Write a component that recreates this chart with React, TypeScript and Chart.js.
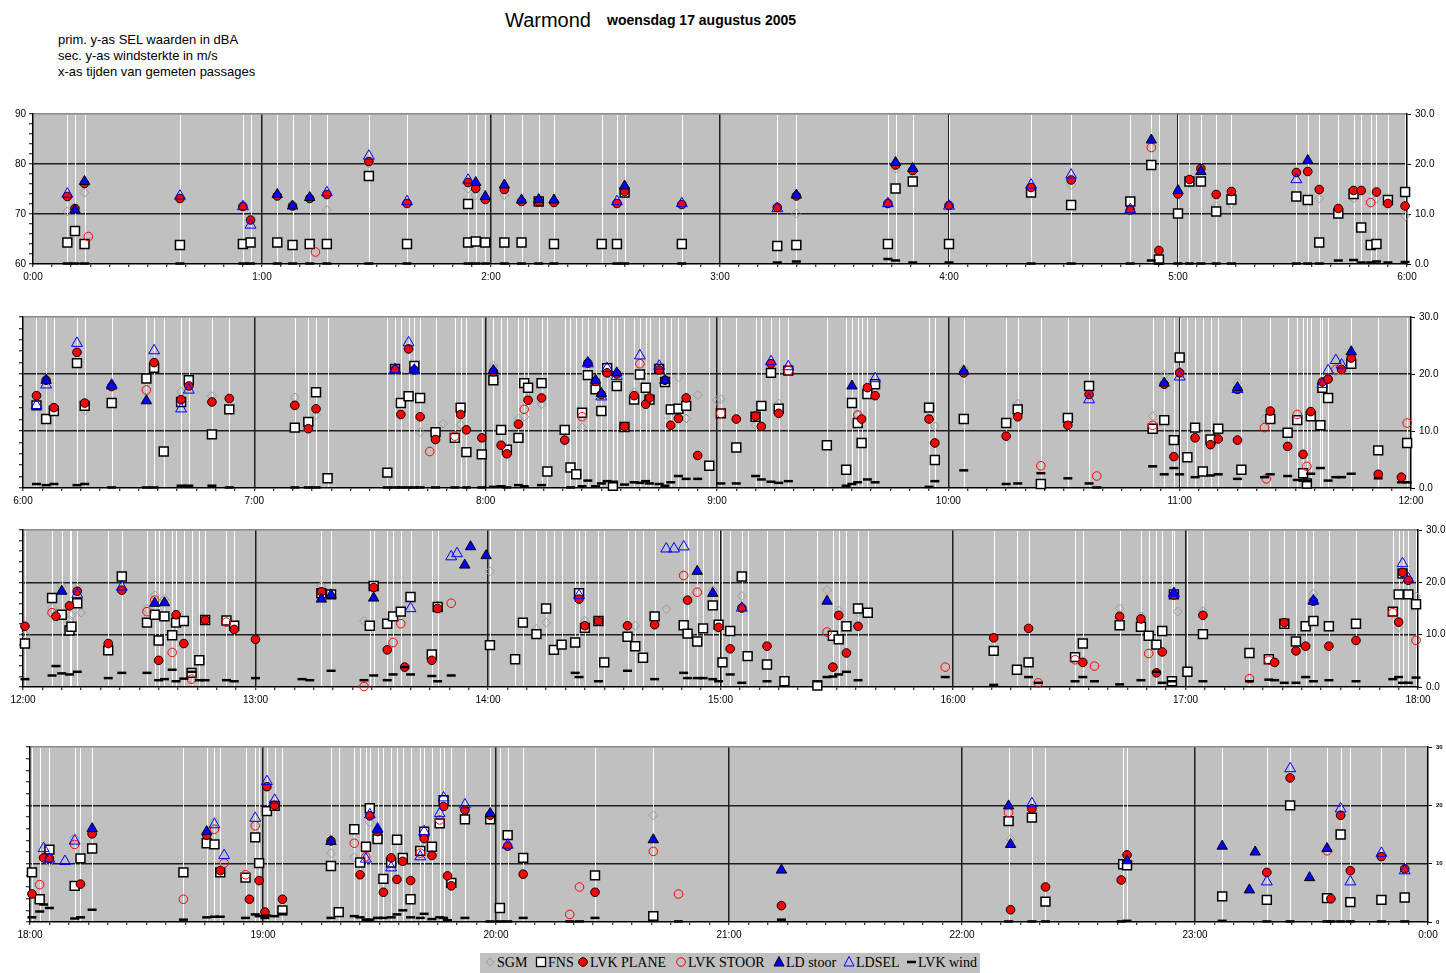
import React, { useEffect, useRef } from "react";
import { Chart, registerables } from "chart.js";

Chart.register(...registerables);

type Pt = [string, number];

// ---------- DATA (time "H:MM[.5]", value dBA; wind in m/s) ----------
const SGM: Pt[] = [
  ["0:09",70.5],["0:13.5",74.3],["1:17",70.8],["1:28",80.1],["1:54",75.1],["1:56",73.8],["2:03.5",73.8],["3:20",70.1],["3:46",79.1],["4:32",75.8],["5:03",76.1],["5:10",71.6],["5:14",72.0],["5:37",73.1],["5:46",73.1],["5:52",73.1],["5:59.5",69.6],
  ["6:03.5",75.3],["6:16",73.6],["6:41",76.9],["6:49",76.1],["7:10.5",75.9],["7:16",72.8],["7:43",69.8],["7:49",71.3],["7:52",69.2],["7:53.5",71.1],["8:02",81.4],["8:08.5",72.2],["8:10",72.5],["8:11",75.8],["8:14.5",74.7],["8:25",70.6],["8:38.5",76.8],["8:45",81.3],["8:50",79.4],["8:52",72.2],["8:55",76.3],["9:00",75.4],["9:01",75.6],["9:10",71.0],["9:11.5",70.8],["9:16",74.8],["9:36.5",72.8],["9:56.5",70.8],["10:04",80.9],["10:18",74.8],["10:53",72.6],["10:56",79.8],["11:00",80.5],["11:15",78.5],["11:22",72.1],["11:40.5",80.4],["11:42",80.5],
  ["12:00.5",70.0],["12:07.5",75.1],["12:10",79.3],["12:12",72.8],["12:12.5",73.7],["12:14",79.0],["12:15",74.2],["12:32",74.9],["12:34",77.5],["12:36.5",76.8],["13:17",79.3],["13:28",72.6],["13:47",75.6],["14:00.5",82.1],["14:12.5",71.1],["14:15",72.3],["14:25",72.6],["14:38",71.7],["14:46",74.9],["14:58",78.5],["15:05.5",77.4],["15:27.5",78.5],["15:30.5",74.6],["15:35.5",74.3],["16:43",75.0],["16:48.5",73.5],["16:58",74.4],["17:04.5",74.5],["17:33",77.8],["17:55",71.4],["17:59.5",77.3],
  ["18:05",70.3],["18:11.5",74.4],["18:47.5",77.2],["19:17.5",71.8],["19:23.5",71.1],["19:27.5",77.1],["20:40.5",78.3],["22:12.5",74.2],["23:37.5",78.3],
];

const FNS: Pt[] = [
  ["0:09",64.3],["0:11",66.6],["0:13.5",64.0],["0:38.5",63.8],["0:55",64.0],["0:57",64.3],["1:04",64.3],["1:08",63.8],["1:12.5",64.0],["1:17",64.0],["1:28",77.6],["1:38",64.0],["1:54",72.0],["1:54",64.3],["1:56",64.5],["1:58.5",64.3],["2:03.5",64.3],["2:08",64.3],["2:12.5",72.5],["2:16.5",64.0],["2:29",64.0],["2:33",64.0],["2:35",74.3],["2:50",64.0],["3:15",63.6],["3:20",63.8],["3:44",64.0],["3:46",75.1],["3:50.5",76.5],["4:00",64.0],["4:21.5",74.3],["4:32",71.8],["4:47.5",72.5],["4:53",79.8],["4:55",60.9],["5:00",70.1],["5:03",76.5],["5:06",76.5],["5:10",70.5],["5:14",72.9],["5:31",73.5],["5:34",72.8],["5:37",64.3],["5:42",70.1],["5:46",74.0],["5:48",67.3],["5:50.5",63.8],["5:52",64.0],["5:55",72.8],["5:59.5",74.4],
  ["6:03.5",74.5],["6:06",72.1],["6:08",73.5],["6:14",81.9],["6:16",74.4],["6:23",74.9],["6:32",79.2],["6:34",81.1],["6:36.5",66.4],["6:41",75.1],["6:43",78.9],["6:49",69.4],["6:53.5",73.8],["7:10.5",70.6],["7:14",71.6],["7:16",76.8],["7:19",61.7],["7:34.5",62.7],["7:36.5",80.9],["7:38",74.9],["7:40",76.1],["7:41.5",81.4],["7:43",75.8],["7:47",69.8],["7:52",68.8],["7:53.5",74.1],["7:55",66.3],["7:59",65.9],["8:02",78.9],["8:04",70.2],["8:05.5",66.7],["8:08.5",68.8],["8:10",78.4],["8:11",77.6],["8:14.5",78.4],["8:16",62.9],["8:20.5",70.2],["8:22",63.6],["8:23.5",62.4],["8:25",73.2],["8:26.5",79.8],["8:28.5",77.3],["8:30",73.5],["8:31.5",81.0],["8:33",60.4],["8:34",77.9],["8:36",70.7],["8:38.5",75.5],["8:40",79.9],["8:41.5",77.6],["8:42.5",75.5],["8:45",80.9],["8:46.5",78.6],["8:48",73.8],["8:50",73.9],["8:52",74.4],["8:58",63.9],["9:01",73.1],["9:05",67.1],["9:10",72.5],["9:11.5",74.4],["9:14",80.2],["9:16",73.9],["9:18.5",80.6],["9:28.5",67.5],["9:33.5",63.2],["9:35",74.9],["9:36.5",71.4],["9:37.5",67.9],["9:39",76.5],["9:41",78.2],["9:55",74.1],["9:56.5",64.9],["10:04",72.1],["10:15",71.4],["10:18",73.8],["10:24",60.7],["10:31",72.3],["10:36.5",77.9],["10:53",70.4],["10:56",71.9],["10:58.5",68.4],["11:00",82.9],["11:02",65.4],["11:04",70.6],["11:06",62.9],["11:08",68.5],["11:10",70.4],["11:16",63.2],["11:23.5",72.1],["11:28",69.7],["11:30.5",71.9],["11:32",62.6],["11:33",60.8],["11:34",72.6],["11:36.5",71.0],["11:37",77.6],["11:38.5",75.8],["11:44.5",81.8],["11:51.5",66.6],["11:59",67.9],
  ["12:00.5",68.3],["12:07.5",77.0],["12:10",73.8],["12:12",70.8],["12:12.5",71.5],["12:14",76.0],["12:22",67.0],["12:25.5",81.1],["12:32",72.3],["12:34",73.8],["12:35",68.9],["12:36.5",73.5],["12:38.5",69.9],["12:39.5",72.3],["12:41.5",72.6],["12:43.5",62.7],["12:45.5",65.1],["12:47",72.8],["12:52.5",72.7],["12:54.5",71.7],["13:17",77.9],["13:19.5",77.7],["13:29.5",71.7],["13:30.5",79.3],["13:34",72.1],["13:35.5",73.5],["13:37.5",74.4],["13:40",77.2],["13:45.5",66.2],["13:47",75.3],["14:00.5",68.0],["14:07",65.3],["14:09",72.3],["14:12.5",70.1],["14:15",75.0],["14:17",67.1],["14:19",68.1],["14:22.5",68.5],["14:23.5",77.9],["14:25",71.3],["14:28.5",72.6],["14:30",64.7],["14:36",69.6],["14:38",67.8],["14:40",65.6],["14:43",73.5],["14:50.5",71.8],["14:51.5",70.2],["14:54",68.7],["14:55.5",71.2],["14:58",75.6],["14:59.5",71.9],["15:00.5",64.7],["15:02.5",70.7],["15:05.5",81.1],["15:07",65.9],["15:12",64.3],["15:16.5",61.1],["15:25",60.3],["15:29",69.8],["15:30.5",69.1],["15:32.5",71.6],["15:35.5",75.0],["15:38",74.2],["16:10.5",66.9],["16:16.5",63.3],["16:19.5",64.7],["16:31.5",65.7],["16:33.5",68.3],["16:43",71.8],["16:48.5",71.5],["16:50.5",69.8],["16:52.5",68.1],["16:54",70.7],["16:56.5",61.1],["16:57",77.7],["17:00.5",62.9],["17:04.5",70.1],["17:16.5",66.5],["17:21.5",65.3],["17:25.5",72.1],["17:28.5",68.7],["17:31",71.6],["17:33",72.6],["17:37",71.6],["17:44",72.1],["17:53.5",74.4],["17:55",77.7],["17:56",81.7],["17:57.5",77.7],["17:59.5",75.8],
  ["18:00.5",68.5],["18:02.5",63.9],["18:05",72.4],["18:11.5",66.2],["18:13",70.9],["18:16",72.6],["18:39.5",68.5],["18:45.5",73.5],["18:47.5",73.3],["18:49",68.5],["18:55.5",67.6],["18:58",74.5],["18:59",70.1],["19:01",79.0],["19:03",79.9],["19:05",62.0],["19:17.5",69.6],["19:19.5",61.7],["19:23.5",75.9],["19:25",70.2],["19:26.5",72.9],["19:27.5",79.5],["19:29.5",74.2],["19:31",67.4],["19:33",70.2],["19:34.5",74.1],["19:36",71.0],["19:38",63.9],["19:40.5",72.2],["19:41.5",75.5],["19:43.5",72.9],["19:45.5",76.9],["19:46.5",80.9],["19:48.5",66.7],["19:52",77.6],["19:58.5",77.6],["20:01",62.4],["20:03",74.9],["20:07",71.0],["20:25.5",68.0],["20:40.5",61.0],["22:12",77.3],["22:18",77.9],["22:21.5",63.5],["22:41.5",69.9],["22:42.5",69.7],["23:07",64.4],["23:18.5",63.8],["23:24.5",80.0],["23:34",64.1],["23:37.5",75.0],["23:40",63.4],["23:48",63.8],["23:54",64.2],
];

const LVK_PLANE: Pt[] = [
  ["0:09",73.5],["0:11",71.1],["0:13.5",76.1],["0:38.5",73.1],["0:55",71.5],["0:57",68.8],["1:04",73.6],["1:08",71.6],["1:12.5",73.1],["1:17",73.9],["1:28",80.5],["1:38",72.1],["1:54",76.3],["1:56",75.1],["1:58.5",72.9],["2:03.5",74.9],["2:08",72.5],["2:12.5",72.5],["2:16.5",72.3],["2:33",72.1],["2:35",74.5],["2:50",71.9],["3:15",71.3],["3:20",73.6],["3:44",72.1],["3:46",79.8],["3:50.5",78.7],["4:00",71.7],["4:21.5",75.3],["4:32",76.8],["4:47.5",70.8],["4:55",62.7],["5:00",74.0],["5:03",76.9],["5:06",79.1],["5:10",73.9],["5:14",74.5],["5:31",78.3],["5:34",78.5],["5:37",74.9],["5:42",71.1],["5:46",74.7],["5:48",74.7],["5:52",74.4],["5:55",72.1],["5:59.5",71.6],
  ["6:03.5",76.2],["6:06",78.9],["6:08",74.1],["6:14",83.8],["6:16",74.9],["6:23",77.8],["6:34",82.0],["6:41",75.5],["6:43",77.9],["6:49",75.1],["6:53.5",75.7],["7:10.5",74.5],["7:14",70.4],["7:16",73.9],["7:36.5",80.8],["7:38",72.9],["7:40",84.4],["7:41.5",80.7],["7:43",72.5],["7:47",68.5],["7:53.5",72.9],["7:55",70.2],["7:59",68.8],["8:02",80.4],["8:04",67.5],["8:05.5",66.0],["8:08.5",71.2],["8:11",75.4],["8:14.5",75.8],["8:20.5",68.4],["8:26.5",81.9],["8:28.5",78.7],["8:30",76.4],["8:31.5",80.2],["8:34",80.0],["8:36",70.8],["8:38.5",76.2],["8:41.5",74.7],["8:42.5",75.8],["8:45",80.7],["8:46.5",78.9],["8:48",71.0],["8:50",72.2],["8:52",75.8],["8:55",65.7],["9:05",72.1],["9:10",72.6],["9:11.5",70.8],["9:14",81.8],["9:16",73.1],["9:37.5",72.1],["9:39",77.6],["9:41",76.2],["9:55",72.1],["9:56.5",67.9],["10:04",80.2],["10:15",69.1],["10:18",72.5],["10:31",71.0],["10:36.5",76.4],["10:56",78.2],["10:58.5",65.5],["11:00",80.2],["11:04",68.8],["11:08",67.6],["11:10",68.6],["11:15",77.3],["11:15",68.4],["11:23.5",73.5],["11:28",67.3],["11:32",65.9],["11:34",73.4],["11:37",78.6],["11:38.5",79.1],["11:42",80.8],["11:44.5",82.8],["11:51.5",62.4],["11:57.5",61.9],
  ["12:00.5",71.6],["12:08.5",73.5],["12:12",75.5],["12:14",78.3],["12:22",68.3],["12:25.5",78.5],["12:35",65.1],["12:39.5",73.8],["12:41.5",68.3],["12:47",72.8],["12:54.5",71.0],["13:00",69.1],["13:17",78.2],["13:30.5",79.0],["13:34",67.1],["13:38.5",63.8],["13:45.5",65.1],["13:47",75.0],["14:23.5",76.8],["14:25",71.7],["14:28.5",72.6],["14:36",71.7],["14:43",71.9],["14:51.5",76.6],["14:59.5",71.4],["15:02.5",67.3],["15:05.5",75.1],["15:12",67.8],["15:29",63.8],["15:30.5",73.7],["15:32.5",66.5],["15:35.5",71.6],["16:10.5",69.4],["16:19.5",71.2],["16:33.5",64.7],["16:43",73.5],["16:48.5",73.0],["16:52.5",62.7],["16:54",66.7],["16:57",77.6],["17:04.5",73.7],["17:23",64.7],["17:25.5",72.3],["17:28.5",66.9],["17:31",67.8],["17:33",76.4],["17:37",67.8],["17:44",68.9],["17:55",72.4],["17:56",81.9],["17:57.5",80.4],
  ["18:00.5",64.8],["18:03.5",71.0],["18:05",70.9],["18:13",66.5],["18:16",75.1],["18:45.5",74.9],["18:49",68.8],["18:56.5",63.9],["18:59",67.1],["19:00.5",61.7],["19:01",83.2],["19:03",80.0],["19:05",63.9],["19:17.5",73.9],["19:25",68.1],["19:27.5",78.2],["19:29.5",75.5],["19:31",65.1],["19:33",71.0],["19:34.5",67.3],["19:36",70.4],["19:38",67.1],["19:41.5",74.3],["19:43.5",71.4],["19:46.5",79.8],["19:47.5",67.9],["19:48.5",66.2],["19:52",79.2],["19:58.5",78.3],["20:03",73.0],["20:07",68.2],["20:25.5",65.1],["21:13.5",62.8],["22:12.5",62.1],["22:18",79.4],["22:21.5",66.0],["22:41",67.2],["22:42.5",71.5],["23:18.5",68.5],["23:24.5",84.7],["23:35",64.0],["23:37.5",78.3],["23:40",68.8],["23:48",71.2],["23:54",69.1],
];

const LVK_STOOR: Pt[] = [
  ["0:14.5",65.5],["1:14",62.4],["4:53",83.3],["5:50.5",72.3],
  ["6:32",77.2],["7:45.5",66.4],["7:52",69.1],["8:10",73.8],["8:25",72.5],["8:40",81.8],["9:01",73.1],["9:18.5",80.6],["9:36.5",72.8],["10:24",63.9],["10:38.5",62.1],["10:53",71.0],["11:22",70.6],["11:22.5",61.6],["11:30.5",72.9],["11:33",63.8],["11:40.5",80.8],["11:59",71.4],
  ["12:07.5",74.2],["12:32",74.4],["12:34",76.6],["12:38.5",66.6],["12:43.5",61.5],["12:52.5",72.4],["13:28",60.1],["13:35.5",68.5],["13:37.5",72.1],["13:50.5",76.0],["14:50.5",81.3],["14:54",78.1],["15:27.5",70.5],["15:58",63.8],["16:22",60.8],["16:31.5",65.2],["16:36.5",64.0],["16:50.5",66.4],["17:16.5",61.6],["17:21.5",65.1],["17:53.5",74.2],["17:59.5",68.9],
  ["18:02.5",66.4],["18:11.5",73.3],["18:39.5",63.9],["18:47.5",75.9],["18:50",70.1],["18:55.5",68.1],["18:58",76.5],["19:23.5",73.5],["19:26.5",71.2],["19:40.5",71.8],["19:45.5",77.5],["20:19",61.3],["20:21.5",66.0],["20:40.5",72.1],["20:47",64.8],["22:12",78.8],["23:34",72.2],
];

const LD_STOOR: Pt[] = [
  ["0:11",70.8],["0:13.5",76.5],["1:04",73.9],["1:08",71.6],["1:12.5",73.3],["1:56",76.3],["1:58.5",73.5],["2:03.5",75.8],["2:08",72.8],["2:12.5",72.9],["2:16.5",72.8],["2:35",75.6],["3:20",73.8],["3:46",80.3],["3:50.5",79.1],["4:53",84.8],["5:00",74.7],["5:06",78.5],["5:34",80.7],
  ["6:06",78.9],["6:23",77.9],["6:32",75.3],["7:41.5",80.7],["8:02",80.6],["8:26.5",82.0],["8:28.5",78.9],["8:30",76.6],["8:34",80.2],["8:46.5",78.9],["9:35",77.9],["10:04",80.5],["10:56",78.4],["11:15",77.6],["11:44.5",83.9],
  ["12:10",78.3],["12:34",76.0],["12:36.5",76.1],["13:17",76.8],["13:19.5",77.6],["13:30.5",77.0],["13:54",83.3],["13:55.5",86.8],["13:59.5",85.1],["14:54",82.1],["14:58",77.9],["15:27.5",76.4],["16:57",77.9],["17:33",76.4],
  ["18:16",76.0],["18:45.5",75.5],["19:17.5",73.8],["19:29.5",75.8],["19:58.5",78.6],["20:40.5",74.1],["21:13.5",68.9],["22:12",79.9],["22:12.5",73.3],["22:42.5",70.5],["23:07",73.0],["23:14",65.5],["23:15.5",72.0],["23:29.5",67.6],["23:34",72.6],
];

const LDSEL: Pt[] = [
  ["0:09",74.0],["0:38.5",73.6],["0:55",71.5],["0:57",67.8],["1:17",74.3],["1:28",81.6],["1:38",72.5],["1:54",76.8],["2:33",72.5],["2:50",72.1],["3:15",71.1],["3:44",72.1],["4:00",71.6],["4:21.5",75.8],["4:32",77.8],["4:47.5",70.9],["5:31",76.9],
  ["6:03.5",74.5],["6:06",78.1],["6:14",85.4],["6:23",78.1],["6:34",84.1],["6:41",73.9],["6:43",77.2],["7:36.5",80.8],["7:40",85.5],["7:41.5",80.7],["8:26.5",81.8],["8:30",76.0],["8:31.5",81.0],["8:34",79.6],["8:40",83.2],["8:45",81.4],["9:14",82.2],["9:18.5",81.3],["9:41",79.2],["10:36.5",75.5],["11:00",79.5],["11:15",77.3],["11:37",78.2],["11:38.5",80.6],["11:40.5",82.4],["11:42",81.6],
  ["12:14",77.7],["12:25.5",79.1],["13:40",75.0],["13:50.5",84.9],["13:52",85.5],["14:23.5",77.5],["14:46",86.4],["14:48",86.4],["14:50.5",86.8],["15:05.5",75.1],["16:57",77.9],["17:33",76.5],["17:56",83.6],["17:57.5",80.7],
  ["18:03.5",72.6],["18:05",70.8],["18:09",70.4],["18:11.5",73.9],["18:47.5",76.7],["18:50",71.4],["18:58",77.8],["19:01",84.1],["19:03",80.9],["19:26.5",70.8],["19:27.5",78.4],["19:29.5",76.0],["19:33",69.3],["19:40.5",71.2],["19:41.5",75.5],["19:45.5",78.6],["19:46.5",81.3],["19:52",80.1],["20:03",73.2],["22:18",80.3],["23:18.5",66.9],["23:24.5",86.3],["23:37.5",79.4],["23:40",66.9],["23:48",71.8],["23:54",68.8],
];

const LVK_WIND: Pt[] = [
  ["0:09",0.1],["0:11",0.1],["0:13.5",0.1],["0:38.5",0.1],["0:55",0.1],["0:57",0.1],["1:04",0.1],["1:08",0.1],["1:12.5",0.1],["1:17",0.1],["1:28",0.1],["1:38",0.1],["1:54",0.1],["1:56",0.1],["1:58.5",0.1],["2:03.5",0.1],["2:08",0.1],["2:12.5",0.1],["2:16.5",0.1],["2:33",0.1],["2:35",0.1],["2:50",0.1],["3:15",0.3],["3:20",0.5],["3:44",1.0],["3:46",0.7],["3:50.5",0.3],["4:00",0.3],["4:21.5",0.1],["4:32",0.1],["4:47.5",0.1],["4:53",0.7],["4:55",0.1],["5:00",0.1],["5:03",0.1],["5:06",0.1],["5:10",0.1],["5:14",0.1],["5:31",0.1],["5:34",0.1],["5:37",0.1],["5:42",0.7],["5:46",0.8],["5:48",0.3],["5:50.5",0.3],["5:52",0.5],["5:55",0.3],["5:59.5",0.4],
  ["6:03.5",0.7],["6:06",0.5],["6:08",0.7],["6:14",0.5],["6:16",0.7],["6:23",0.1],["6:32",0.1],["6:34",0.1],["6:41",0.4],["6:43",0.4],["6:49",0.4],["6:53.5",0.1],["7:10.5",0.1],["7:14",0.1],["7:16",0.1],["7:34.5",0.1],["7:36.5",0.1],["7:38",0.1],["7:40",0.1],["7:41.5",0.1],["7:43",0.1],["7:47",0.1],["7:52",0.1],["7:55",0.1],["7:59",0.1],["8:02",0.2],["8:04",0.3],["8:05.5",0.1],["8:08.5",0.5],["8:10",0.3],["8:14.5",0.5],["8:22",0.1],["8:25",0.3],["8:26.5",1.3],["8:28.5",0.3],["8:30",0.8],["8:31.5",1.2],["8:33",1.0],["8:36",0.6],["8:38.5",1.0],["8:40",0.9],["8:41.5",1.2],["8:42.5",0.8],["8:45",0.7],["8:46.5",0.4],["8:48",1.0],["8:50",2.1],["8:52",1.6],["8:55",1.6],["9:01",0.8],["9:05",0.8],["9:10",2.1],["9:11.5",1.5],["9:14",1.1],["9:16",0.9],["9:18.5",1.2],["9:33.5",0.4],["9:35",0.7],["9:36.5",1.0],["9:39",1.5],["9:41",1.0],["9:55",0.2],["9:56.5",1.2],["10:04",3.1],["10:15",0.7],["10:18",0.8],["10:24",2.6],["10:31",1.7],["10:36.5",0.8],["10:38.5",0.1],["10:53",3.8],["10:56",2.4],["10:58.5",3.5],["11:00",2.4],["11:04",1.9],["11:08",2.2],["11:10",2.4],["11:15",1.6],["11:22",1.9],["11:23.5",2.4],["11:28",2.1],["11:30.5",1.4],["11:32",1.3],["11:33",1.2],["11:34",2.5],["11:36.5",3.5],["11:38.5",1.3],["11:40.5",1.9],["11:42",1.9],["11:44.5",2.5],["11:51.5",1.7],["11:57.5",1.0],["11:59",1.0],
  ["12:00.5",1.5],["12:07.5",2.2],["12:08.5",4.0],["12:10",2.6],["12:12",2.4],["12:14",2.9],["12:22",1.7],["12:25.5",2.7],["12:32",2.7],["12:35",1.3],["12:36.5",1.5],["12:38.5",3.3],["12:39.5",1.1],["12:41.5",1.6],["12:43.5",2.9],["12:45.5",1.3],["12:47",1.3],["12:52.5",1.3],["12:54.5",1.1],["13:00",1.7],["13:12",1.5],["13:14",1.3],["13:19.5",3.1],["13:28",1.3],["13:30.5",2.2],["13:34",1.3],["13:35.5",2.4],["13:38.5",3.8],["13:40",2.4],["13:45.5",2.1],["13:47",1.1],["13:50.5",2.2],["14:22.5",2.7],["14:23.5",1.9],["14:28.5",1.1],["14:36",3.1],["14:43",1.5],["14:50.5",2.7],["14:51.5",1.7],["14:54",1.7],["14:55.5",1.7],["14:58",1.5],["14:59.5",1.1],["15:02.5",2.4],["15:05.5",0.8],["15:12",1.1],["15:25",1.1],["15:27.5",1.9],["15:29",2.0],["15:30.5",2.4],["15:32.5",2.9],["15:35.5",1.3],["15:58",1.9],["16:10.5",0.4],["16:19.5",1.9],["16:22",0.8],["16:31.5",1.1],["16:33.5",1.9],["16:36.5",1.1],["16:43",0.5],["16:48.5",1.3],["16:52.5",2.9],["16:54",0.8],["16:56.5",1.1],["17:04.5",1.1],["17:16.5",1.1],["17:21.5",1.4],["17:23",1.3],["17:25.5",0.8],["17:28.5",0.8],["17:31",1.9],["17:33",1.1],["17:37",1.3],["17:44",1.1],["17:53.5",1.5],["17:55",1.9],["17:56",0.8],["17:57.5",0.8],["17:59.5",1.8],
  ["18:00.5",0.8],["18:02.5",1.8],["18:03.5",3.0],["18:05",2.4],["18:11.5",0.6],["18:13",0.8],["18:16",2.1],["18:39.5",0.4],["18:45.5",0.8],["18:47.5",0.9],["18:49",0.9],["18:55.5",0.7],["18:58",1.3],["18:59",1.0],["19:00.5",0.7],["19:01",1.1],["19:03",1.0],["19:05",1.4],["19:17.5",0.7],["19:23.5",1.0],["19:25",0.8],["19:26.5",0.4],["19:27.5",0.4],["19:29.5",0.7],["19:31",0.7],["19:33",0.8],["19:34.5",1.3],["19:36",2.0],["19:38",0.8],["19:40.5",0.7],["19:41.5",1.4],["19:43.5",0.5],["19:45.5",0.8],["19:46.5",0.7],["19:47.5",0.3],["19:52",0.7],["19:58.5",0.1],["20:01",0.1],["20:03",0.1],["20:07",0.7],["20:19",0.1],["20:21.5",0.1],["20:25.5",0.7],["20:40.5",0.2],["20:47",0.1],["21:13.5",0.4],["22:12",0.1],["22:18",0.1],["22:21.5",0.1],["22:41",0.1],["22:42.5",0.2],["23:07",0.2],["23:18.5",0.1],["23:24.5",0.1],["23:34",0.1],["23:35",0.1],["23:37.5",0.1],["23:40",0.1],["23:48",0.1],["23:54",0.1],
];

const TITLE = "Warmond";
const SUBTITLE = "woensdag 17 augustus 2005";
const NOTES = ["prim. y-as SEL waarden in dBA", "sec. y-as windsterkte in m/s", "x-as tijden van gemeten passages"];
const SEL_TICKS = [60, 70, 80, 90];
const WIND_TICKS = [0, 10, 20, 30];

// ---------- LAYOUT / STYLE ----------
const W = 1446;
const PANELS = [
  { start: 0, end: 360, top: 114, bottom: 264, left: 33, right: 1407, yLabels: true, rFont: 10, rDec: true },
  { start: 360, end: 720, top: 317, bottom: 488, left: 23, right: 1411, yLabels: false, rFont: 10, rDec: true },
  { start: 720, end: 1080, top: 530, bottom: 687, left: 23, right: 1418, yLabels: false, rFont: 10, rDec: true },
  { start: 1080, end: 1440, top: 747, bottom: 922, left: 30, right: 1428, yLabels: false, rFont: 6, rDec: false },
];
const PAD_TOP = 12;
const XAX_H = 22;
const FONT = "Arial, 'Liberation Sans', sans-serif";

const toMin = (s: string) => {
  const [h, m] = s.split(":");
  return Number(h) * 60 + Number(m);
};
const fmt = (v: number) => `${Math.floor(v / 60) % 24}:${String(Math.round(v % 60)).padStart(2, "0")}`;

const SERIES = [
  { label: "SGM", data: SGM, axis: "y", style: "rectRot", r: 4.5, bg: "rgba(0,0,0,0)", bc: "#9a9a9a", bw: 1, order: 7 },
  { label: "FNS", data: FNS, axis: "y", style: "rect", r: 6.3, bg: "#ffffff", bc: "#000000", bw: 1.5, order: 6 },
  { label: "LVK PLANE", data: LVK_PLANE, axis: "y", style: "circle", r: 4.3, bg: "#ff0000", bc: "#000000", bw: 1, order: 5 },
  { label: "LVK STOOR", data: LVK_STOOR, axis: "y", style: "circle", r: 4.3, bg: "rgba(0,0,0,0)", bc: "#ff0000", bw: 1, order: 4 },
  { label: "LD stoor", data: LD_STOOR, axis: "y", style: "triangle", r: 6, bg: "#0000ff", bc: "#000000", bw: 1, order: 3 },
  { label: "LDSEL", data: LDSEL, axis: "y", style: "triangle", r: 6.3, bg: "rgba(0,0,0,0)", bc: "#0000ff", bw: 1, order: 2 },
  { label: "LVK wind", data: LVK_WIND, axis: "y2", style: "line", r: 4.5, bg: "#000000", bc: "#000000", bw: 2.5, order: 1 },
];

type PanelCfg = typeof PANELS[number];

function Panel({ cfg }: { cfg: PanelCfg }) {
  const ref = useRef<HTMLCanvasElement>(null);
  const H = cfg.bottom - cfg.top + PAD_TOP + XAX_H;

  useEffect(() => {
    const inRange = (t: number) => t >= cfg.start && t <= cfg.end;
    const passTimes = FNS.map((p) => toMin(p[0])).filter(inRange);

    const bgPlugin = {
      id: "bgAndPassages",
      beforeDraw(chart: any) {
        const { ctx, chartArea: a } = chart;
        ctx.save();
        ctx.fillStyle = "#c0c0c0";
        ctx.fillRect(a.left, a.top, a.right - a.left, a.bottom - a.top);
        ctx.restore();
      },
      beforeDatasetsDraw(chart: any) {
        const { ctx, chartArea: a, scales } = chart;
        ctx.save();
        ctx.strokeStyle = "#ffffff";
        ctx.lineWidth = 1;
        passTimes.forEach((t) => {
          const x = Math.round(scales.x.getPixelForValue(t)) + 0.5;
          ctx.beginPath();
          ctx.moveTo(x, a.top + 1);
          ctx.lineTo(x, a.bottom - 1);
          ctx.stroke();
        });
        ctx.restore();
      },
    };

    const datasets = SERIES.map((s) => ({
      label: s.label,
      data: s.data
        .map((p) => ({ x: toMin(p[0]), y: p[1] }))
        .filter((p) => inRange(p.x)),
      yAxisID: s.axis,
      showLine: false,
      pointStyle: s.style,
      pointRadius: s.r,
      pointBackgroundColor: s.bg,
      pointBorderColor: s.bc,
      pointBorderWidth: s.bw,
      backgroundColor: s.bg,
      borderColor: s.bc,
      order: s.order,
      clip: false as any,
    }));

    const chart = new Chart(ref.current as HTMLCanvasElement, {
      type: "scatter",
      data: { datasets },
      plugins: [bgPlugin],
      options: {
        animation: false,
        responsive: false,
        maintainAspectRatio: false,
        devicePixelRatio: 1,
        events: [],
        layout: { padding: { top: PAD_TOP, left: 0, right: 0, bottom: 0 } },
        plugins: { legend: { display: false }, tooltip: { enabled: false }, title: { display: false } },
        scales: {
          x: {
            type: "linear",
            min: cfg.start,
            max: cfg.end,
            afterFit: (s: any) => { s.height = XAX_H; },
            ticks: {
              stepSize: 5,
              autoSkip: false,
              maxRotation: 0,
              minRotation: 0,
              padding: 4,
              color: "#000",
              font: { family: FONT, size: 10 },
              callback: (v: any) => (Number(v) % 60 === 0 ? fmt(Number(v)) : ""),
            },
            grid: {
              drawOnChartArea: true,
              drawTicks: true,
              tickLength: 3,
              tickColor: "#000",
              tickWidth: 1,
              color: (c: any) => {
                const v = c.tick ? c.tick.value : -1;
                return v % 60 === 0 && v !== cfg.start && v !== cfg.end ? "#1e1e1e" : "rgba(0,0,0,0)";
              },
              lineWidth: 1.5,
            },
            border: { display: true, color: "#000", width: 1.5 },
          },
          y: {
            type: "linear",
            position: "left",
            min: SEL_TICKS[0],
            max: SEL_TICKS[SEL_TICKS.length - 1],
            afterFit: (s: any) => { s.width = cfg.left; },
            ticks: {
              stepSize: 2,
              autoSkip: false,
              padding: 3,
              color: "#000",
              font: { family: FONT, size: 10 },
              callback: (v: any) => (cfg.yLabels && SEL_TICKS.includes(Number(v)) ? String(v) : ""),
            },
            grid: {
              drawOnChartArea: true,
              tickLength: 4,
              tickColor: "#000",
              tickWidth: 1,
              lineWidth: 1.5,
              color: (c: any) => {
                const v = c.tick ? c.tick.value : -1;
                if (v === SEL_TICKS[1] || v === SEL_TICKS[2]) return "#1e1e1e";
                if (v === SEL_TICKS[3]) return "#8a8a8a";
                return "rgba(0,0,0,0)";
              },
            },
            border: { display: true, color: "#000", width: 1.5 },
          },
          y2: {
            type: "linear",
            position: "right",
            min: WIND_TICKS[0],
            max: WIND_TICKS[WIND_TICKS.length - 1],
            afterFit: (s: any) => { s.width = W - cfg.right; },
            ticks: {
              stepSize: 10,
              autoSkip: false,
              padding: 4,
              color: "#000",
              font: { family: FONT, size: cfg.rFont, weight: cfg.rDec ? "normal" : "bold" },
              callback: (v: any) => (cfg.rDec ? Number(v).toFixed(1) : String(v)),
            },
            grid: { drawOnChartArea: false, tickLength: 4, tickColor: "#000", tickWidth: 1 },
            border: { display: true, color: "#000", width: 1.5 },
          },
        },
      } as any,
    });
    return () => chart.destroy();
  }, []);

  return (
    <canvas
      ref={ref}
      width={W}
      height={H}
      style={{ position: "absolute", left: 0, top: cfg.top - PAD_TOP, width: W, height: H }}
    />
  );
}

function Marker({ kind }: { kind: string }) {
  const common = { width: 12, height: 14, style: { display: "inline-block", verticalAlign: "-2px", marginRight: 1 } };
  switch (kind) {
    case "SGM":
      return <svg {...common}><polygon points="6,3 10,7 6,11 2,7" fill="none" stroke="#999" strokeWidth="1" /></svg>;
    case "FNS":
      return <svg {...common}><rect x="1.5" y="2.5" width="9" height="9" fill="#fff" stroke="#000" strokeWidth="1.3" /></svg>;
    case "LVK PLANE":
      return <svg {...common}><circle cx="6" cy="7" r="4.3" fill="#f00" stroke="#000" strokeWidth="1" /></svg>;
    case "LVK STOOR":
      return <svg {...common}><circle cx="6" cy="7" r="4.3" fill="none" stroke="#f00" strokeWidth="1" /></svg>;
    case "LD stoor":
      return <svg {...common}><polygon points="6,1.5 11,11 1,11" fill="#00f" stroke="#000" strokeWidth="1" /></svg>;
    case "LDSEL":
      return <svg {...common}><polygon points="6,1.5 11,11 1,11" fill="none" stroke="#00f" strokeWidth="1" /></svg>;
    default:
      return <svg {...common}><line x1="2" y1="7" x2="11" y2="7" stroke="#000" strokeWidth="2.5" /></svg>;
  }
}

const LEGEND_X = [484, 535, 577, 675, 773, 843, 905];

export default function App() {
  return (
    <div style={{ position: "absolute", left: 0, top: 0, width: W, height: 973, background: "#fff", overflow: "hidden" }}>
      <div style={{ position: "absolute", left: 505, top: 10, font: `20px ${FONT}`, lineHeight: "20px", whiteSpace: "nowrap" }}>
        {TITLE}
      </div>
      <div style={{ position: "absolute", left: 607, top: 13, font: `bold 14px ${FONT}`, lineHeight: "14px", whiteSpace: "nowrap" }}>
        {SUBTITLE}
      </div>
      {NOTES.map((n, i) => (
        <div key={i} style={{ position: "absolute", left: 58, top: 32 + i * 16, font: `13px ${FONT}`, lineHeight: "16px", whiteSpace: "nowrap" }}>
          {n}
        </div>
      ))}
      {PANELS.map((p, i) => (
        <Panel key={i} cfg={p} />
      ))}
      <div style={{ position: "absolute", left: 480, top: 953, width: 500, height: 20, background: "#c0c0c0" }}>
        {SERIES.map((s, i) => (
          <div
            key={s.label}
            style={{
              position: "absolute",
              left: LEGEND_X[i] - 480,
              top: 2,
              font: `14px 'Liberation Serif', 'Times New Roman', serif`,
              lineHeight: "16px",
              whiteSpace: "nowrap",
            }}
          >
            <Marker kind={s.label} />
            {s.label}
          </div>
        ))}
      </div>
    </div>
  );
}
